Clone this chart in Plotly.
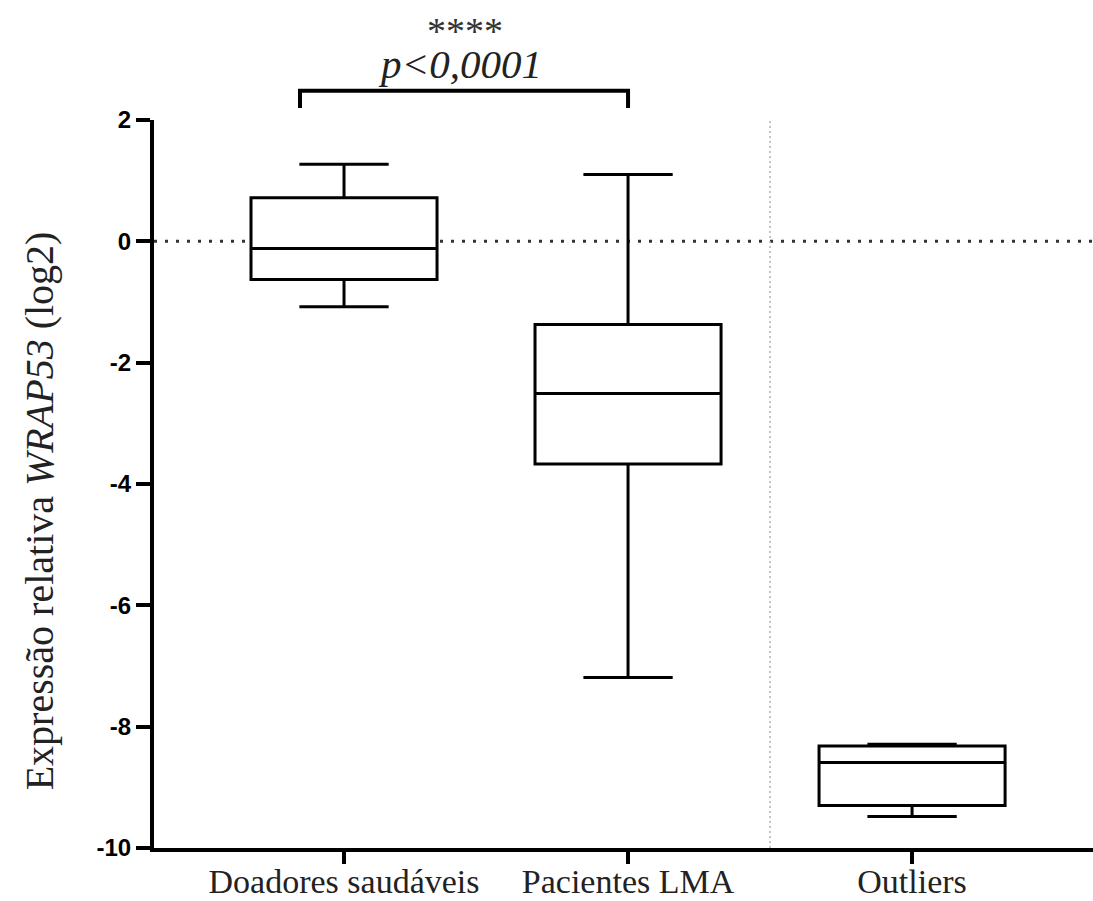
import plotly.graph_objects as go

# ---- data ----
categories = ["Doadores saudáveis", "Pacientes LMA", "Outliers"]
upper_whisker = [1.27, 1.10, -8.29]
q3_values = [0.72, -1.37, -8.32]
median_values = [-0.12, -2.51, -8.59]
q1_values = [-0.63, -3.67, -9.30]
lower_whisker = [-1.08, -7.19, -9.48]
y_ticks = [2, 0, -2, -4, -6, -8, -10]
sig_stars = "****"
sig_text = "p<0,0001"

xpos = list(range(len(categories)))
SERIF = "Liberation Serif, Times New Roman, serif"

fig = go.Figure()
fig.add_trace(go.Box(
    x=xpos,
    q1=q1_values,
    median=median_values,
    q3=q3_values,
    lowerfence=lower_whisker,
    upperfence=upper_whisker,
    boxpoints=False,
    width=0.655,
    whiskerwidth=0.48,
    fillcolor="white",
    line=dict(color="black", width=3),
    showlegend=False,
    hoverinfo="skip",
))

x0, x1 = -0.669, 2.637

fig.update_layout(
    width=1093, height=901,
    margin=dict(l=154, r=0, t=120, b=53),
    paper_bgcolor="white", plot_bgcolor="white",
    showlegend=False,
    xaxis=dict(
        range=[x0, x1], automargin=False,
        tickmode="array", tickvals=xpos, ticktext=categories,
        showgrid=False, zeroline=False,
        showline=True, linewidth=4, linecolor="black",
        ticks="outside", ticklen=12, tickwidth=4, tickcolor="black",
        ticklabelstandoff=-12,
        tickfont=dict(family=SERIF, size=34, color="#222"),
    ),
    yaxis=dict(
        range=[-10, 2], automargin=False,
        tickmode="array", tickvals=y_ticks, ticktext=[str(v) for v in y_ticks],
        showgrid=False, zeroline=False,
        showline=True, linewidth=4, linecolor="black",
        ticks="outside", ticklen=14, tickwidth=4, tickcolor="black",
        tickfont=dict(family="Liberation Sans, Arial, sans-serif", size=24, color="black", weight="bold"),
    ),
)

# dotted zero line
fig.add_shape(type="line", xref="paper", yref="y", x0=0, x1=1, y0=0, y1=0,
              line=dict(color="#333", width=3, dash="3px,8px"), layer="below")
# vertical separator between groups
fig.add_shape(type="line", xref="x", yref="y", x0=1.5, x1=1.5, y0=-10, y1=2,
              line=dict(color="#b0b0b0", width=1.5, dash="2px,3px"), layer="below")

# significance bracket
fig.add_shape(type="path", xref="x", yref="paper",
              path="M -0.155,1.0165 L -0.155,1.0402 L 1,1.0402 L 1,1.0165",
              line=dict(color="black", width=4))

fig.add_annotation(x=0.426, y=1.122, xref="x", yref="paper", text=sig_stars,
                   showarrow=False, xanchor="center", yanchor="middle",
                   font=dict(family=SERIF, size=38, color="#333"))
fig.add_annotation(x=0.41, y=1.0776, xref="x", yref="paper", text="<i>" + sig_text + "</i>",
                   showarrow=False, xanchor="center", yanchor="middle",
                   font=dict(family=SERIF, size=41, color="#222"))

# y-axis title
fig.add_annotation(x=-0.121, y=0.463, xref="paper", yref="paper",
                   text="Expressão relativa <i>WRAP53</i> (log2)",
                   textangle=-90, showarrow=False, xanchor="center", yanchor="middle",
                   font=dict(family=SERIF, size=40, color="#222"))

fig.write_html("out.html")
